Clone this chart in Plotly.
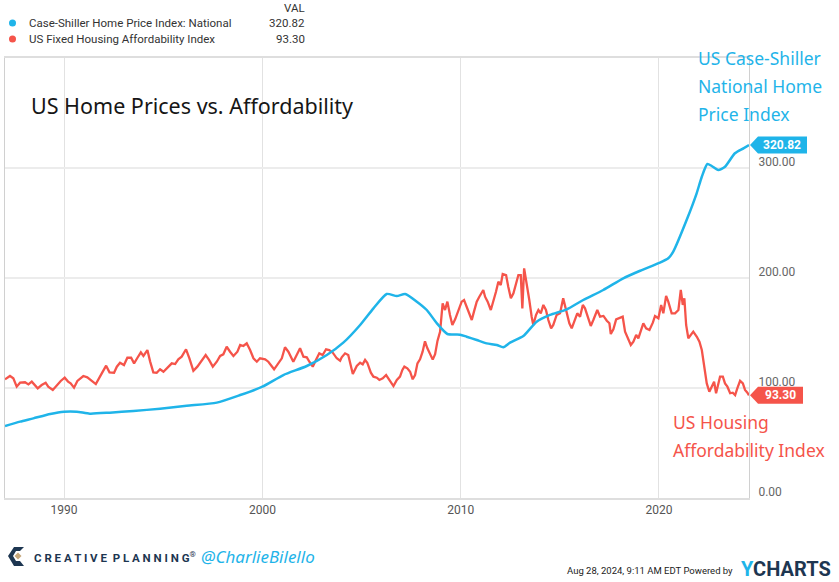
import plotly.graph_objects as go

# ---------------- data ----------------
hpi_name = "Case-Shiller Home Price Index: National"
hpi_years = [1987.02, 1987.78, 1988.45, 1989.30, 1990.00, 1990.64, 1991.30, 1992.30,
             1993.50, 1994.84, 1996.18, 1997.70, 1998.88, 2000.00, 2001.06, 2002.24,
             2003.25, 2004.08, 2004.93, 2005.60, 2006.27, 2006.78, 2007.20, 2007.79,
             2008.29, 2008.80, 2009.33, 2009.97, 2010.30, 2010.81, 2011.31, 2011.82,
             2012.15, 2012.49, 2013.16, 2013.83, 2014.50, 2015.35, 2016.18, 2017.19,
             2018.20, 2019.05, 2020.05, 2020.47, 2020.72, 2021.43, 2021.90, 2022.16,
             2022.44, 2022.66, 2022.99, 2023.33, 2023.83, 2024.26, 2024.54]
hpi_values = [65.5, 69.4, 72.4, 76.4, 78.5, 78.5, 76.7, 77.6,
              79.1, 81.2, 83.9, 86.7, 93.6, 101.2, 111.8, 120.0,
              130.0, 141.2, 157.3, 172.4, 185.5, 183.6, 185.5, 178.5,
              170.9, 158.8, 149.1, 148.5, 146.6, 143.6, 140.6, 139.1,
              137.0, 141.2, 147.3, 160.3, 166.4, 171.5, 180.0, 189.1,
              199.7, 206.6, 213.9, 217.9, 224.0, 254.3, 277.0, 292.1,
              303.6, 301.8, 298.2, 301.2, 313.4, 317.9, 320.82]

aff_name = "US Fixed Housing Affordability Index"
aff_years = [1987.02, 1987.27, 1987.44, 1987.61, 1987.78, 1988.03, 1988.20, 1988.37,
             1988.67, 1988.87, 1989.07, 1989.20, 1989.43, 1989.63, 1989.83, 1990.03,
             1990.20, 1990.33, 1990.50, 1990.67, 1990.97, 1991.17, 1991.40, 1991.60,
             1991.90, 1992.12, 1992.29, 1992.52, 1992.66, 1992.82, 1993.02, 1993.19,
             1993.38, 1993.53, 1993.70, 1993.87, 1994.00, 1994.20, 1994.34, 1994.50,
             1994.67, 1994.84, 1995.01, 1995.26, 1995.43, 1995.60, 1995.76, 1995.93,
             1996.15, 1996.32, 1996.52, 1996.72, 1996.94, 1997.14, 1997.31, 1997.50,
             1997.70, 1997.87, 1998.03, 1998.20, 1998.37, 1998.54, 1998.74, 1998.88,
             1999.04, 1999.21, 1999.38, 1999.55, 1999.72, 1999.88, 2000.14, 2000.30,
             2000.59, 2000.80, 2000.98, 2001.14, 2001.31, 2001.56, 2001.73, 2001.90,
             2002.07, 2002.24, 2002.37, 2002.54, 2002.70, 2002.87, 2003.04, 2003.21,
             2003.37, 2003.55, 2003.75, 2003.92, 2004.00, 2004.17, 2004.33, 2004.46,
             2004.56, 2004.76, 2004.93, 2005.06, 2005.18, 2005.29, 2005.47, 2005.60,
             2005.77, 2005.90, 2006.07, 2006.24, 2006.44, 2006.61, 2006.78, 2006.94,
             2007.06, 2007.16, 2007.31, 2007.45, 2007.58, 2007.70, 2007.82, 2007.95,
             2008.08, 2008.20, 2008.31, 2008.46, 2008.59, 2008.71, 2008.83, 2008.96,
             2009.09, 2009.21, 2009.33, 2009.46, 2009.58, 2009.72, 2009.88, 2010.05,
             2010.17, 2010.30, 2010.43, 2010.56, 2010.67, 2010.81, 2010.94, 2011.06,
             2011.14, 2011.23, 2011.36, 2011.52, 2011.65, 2011.78, 2011.90, 2012.02,
             2012.12, 2012.29, 2012.40, 2012.53, 2012.66, 2012.80, 2012.91, 2013.03,
             2013.11, 2013.20, 2013.33, 2013.46, 2013.58, 2013.66, 2013.80, 2013.92,
             2014.04, 2014.17, 2014.30, 2014.42, 2014.56, 2014.67, 2014.84, 2015.01,
             2015.17, 2015.35, 2015.48, 2015.60, 2015.72, 2015.88, 2016.02, 2016.16,
             2016.27, 2016.44, 2016.56, 2016.69, 2016.89, 2017.03, 2017.20, 2017.37,
             2017.50, 2017.57, 2017.70, 2017.84, 2018.00, 2018.17, 2018.29, 2018.46,
             2018.58, 2018.71, 2018.85, 2018.96, 2019.08, 2019.21, 2019.35, 2019.52,
             2019.69, 2019.80, 2019.97, 2020.11, 2020.22, 2020.36, 2020.47, 2020.64,
             2020.81, 2020.98, 2021.10, 2021.20, 2021.28, 2021.37, 2021.48, 2021.60,
             2021.73, 2021.91, 2022.04, 2022.16, 2022.27, 2022.41, 2022.54, 2022.66,
             2022.78, 2022.88, 2023.00, 2023.08, 2023.22, 2023.33, 2023.45, 2023.59,
             2023.72, 2023.84, 2023.95, 2024.09, 2024.23, 2024.34, 2024.46, 2024.54]
aff_values = [107.9, 110.9, 108.8, 101.2, 104.8, 105.2, 103.3, 105.8,
              99.7, 102.7, 104.8, 101.2, 98.2, 102.7, 106.4, 109.4,
              105.8, 104.2, 100.3, 106.4, 110.9, 109.7, 106.4, 103.6,
              113.3, 120.3, 114.2, 113.9, 119.4, 123.0, 120.9, 127.5,
              127.5, 122.4, 127.5, 132.4, 129.1, 134.5, 124.0, 114.2,
              113.9, 117.0, 114.8, 119.4, 122.4, 121.8, 126.1, 128.5,
              135.2, 127.0, 115.7, 119.4, 125.5, 130.0, 125.5, 119.4,
              123.9, 129.1, 130.6, 137.5, 133.0, 129.1, 133.0, 139.1,
              138.2, 140.6, 134.5, 127.0, 123.9, 127.0, 126.1, 123.9,
              117.0, 122.4, 127.0, 137.0, 133.0, 123.9, 130.5, 136.1,
              128.5, 127.9, 123.9, 119.4, 125.5, 131.5, 130.0, 135.2,
              134.5, 132.1, 127.0, 124.8, 127.9, 131.5, 130.0, 119.4,
              112.7, 120.0, 123.0, 121.5, 125.5, 123.0, 113.9, 110.3,
              109.4, 107.3, 108.8, 111.8, 105.7, 101.8, 107.3, 110.3,
              116.4, 119.4, 117.9, 114.8, 107.9, 111.8, 122.4, 126.1,
              133.0, 142.5, 136.5, 130.0, 125.8, 130.8, 142.8, 151.0,
              177.0, 170.9, 178.5, 166.4, 157.3, 162.4, 170.9, 178.5,
              180.0, 173.9, 169.4, 161.8, 169.4, 178.5, 183.0, 186.1,
              189.1, 183.0, 178.5, 170.9, 178.5, 187.5, 196.6, 193.6,
              203.6, 202.7, 192.1, 181.5, 186.1, 196.6, 202.7, 202.7,
              172.4, 208.8, 195.2, 180.0, 164.8, 157.3, 166.4, 170.9,
              167.9, 175.5, 170.9, 161.8, 154.2, 157.3, 166.4, 168.0,
              181.5, 169.4, 158.8, 154.2, 160.3, 167.9, 164.8, 175.5,
              172.4, 163.4, 156.4, 161.8, 170.9, 164.8, 165.5, 161.2,
              158.8, 149.1, 153.4, 162.4, 163.4, 164.8, 151.2, 143.6,
              139.1, 142.1, 148.2, 145.2, 151.2, 158.8, 154.2, 152.7,
              159.4, 165.5, 163.4, 175.5, 167.9, 183.6, 178.5, 167.9,
              167.9, 170.9, 189.1, 175.5, 181.5, 157.3, 145.2, 148.2,
              151.2, 146.6, 142.1, 134.5, 119.4, 104.2, 96.6, 101.2,
              105.7, 95.2, 104.2, 110.3, 110.3, 104.2, 101.2, 95.2,
              95.7, 93.6, 99.7, 106.6, 104.2, 98.2, 95.7, 93.30]

x_tick_vals = [1990, 2000, 2010, 2020]
x_tick_text = ["1990", "2000", "2010", "2020"]
y_tick_vals = [0, 100, 200, 300]
y_tick_text = ["0.00", "100.00", "200.00", "300.00"]

BLUE = "#1fb4e9"
RED = "#f5544a"
NAVY = "#1d3651"

# ---------------- layout geometry (pixels of the 839x582 page) ----------------
W, H = 839, 582
L, R, T, B = 5, 749, 58, 498          # plot area edges
PW, PH = R - L, B - T
Y_MAX = 400


def px(x):
    return (x - L) / PW


def py(y):
    return (B - y) / PH


fig = go.Figure()
fig.add_trace(go.Scatter(x=aff_years, y=aff_values, mode="lines", name=aff_name,
                         line=dict(color=RED, width=2.3)))
fig.add_trace(go.Scatter(x=hpi_years, y=hpi_values, mode="lines", name=hpi_name,
                         line=dict(color=BLUE, width=2.5, shape="spline", smoothing=0.6)))

ann = []
shapes = []

# legend block (top-left)
ann.append(dict(xref="paper", yref="paper", x=px(307), y=py(8), text="VAL", showarrow=False,
                xanchor="right", yanchor="middle", font=dict(family="Roboto", size=11.5, color="#333")))
for i, (nm, col, val) in enumerate([(hpi_name, BLUE, hpi_values[-1]),
                                     (aff_name, RED, aff_values[-1])]):
    yy = 23 + 16 * i
    shapes.append(dict(type="circle", xref="paper", yref="paper",
                       x0=px(9), x1=px(16), y0=py(yy + 3.5), y1=py(yy - 3.5),
                       fillcolor=col, line=dict(width=0)))
    ann.append(dict(xref="paper", yref="paper", x=px(27), y=py(yy), text=nm, showarrow=False,
                    xanchor="left", yanchor="middle", font=dict(family="Roboto", size=11.5, color="#333")))
    ann.append(dict(xref="paper", yref="paper", x=px(307), y=py(yy), text=f"{val:.2f}", showarrow=False,
                    xanchor="right", yanchor="middle", font=dict(family="Roboto", size=11.5, color="#333")))

# chart title inside plot
ann.append(dict(xref="paper", yref="paper", x=px(29), y=py(105), text="US Home Prices vs. Affordability",
                showarrow=False, xanchor="left", yanchor="middle",
                font=dict(family="Noto Sans", size=21.5, color="#161616")))

# series call-outs
for i, t in enumerate(["US Case-Shiller", "National Home", "Price Index"]):
    ann.append(dict(xref="paper", yref="paper", x=px(696), y=py(58 + 28 * i), text=t, showarrow=False,
                    xanchor="left", yanchor="middle", font=dict(family="Noto Sans", size=17.5, color=BLUE)))
for i, t in enumerate(["US Housing", "Affordability Index"]):
    ann.append(dict(xref="paper", yref="paper", x=px(671), y=py(422 + 28 * i), text=t, showarrow=False,
                    xanchor="left", yanchor="middle", font=dict(family="Noto Sans", size=17.5, color=RED)))

# last-value tags on the right axis
tag_half = 8.5 * Y_MAX / PH
for val, col, wpx in [(hpi_values[-1], BLUE, 49), (aff_values[-1], RED, 45)]:
    shapes.append(dict(type="path", xref="paper", yref="y",
                       path=f"M {px(R+1)},{val} L {px(R+9)},{val+tag_half} L {px(R+9+wpx)},{val+tag_half} "
                            f"L {px(R+9+wpx)},{val-tag_half} L {px(R+9)},{val-tag_half} Z",
                       fillcolor=col, line=dict(width=0), layer="above"))
    ann.append(dict(xref="paper", yref="y", x=px(R + 9 + wpx / 2), y=val, text=f"<b>{val:.2f}</b>",
                    showarrow=False, xanchor="center", yanchor="middle",
                    font=dict(family="Roboto", size=12, color="white")))

# footer: logo + handle
shapes.append(dict(type="path", xref="paper", yref="paper",
                   path=f"M {px(24)},{py(547)} L {px(14)},{py(547)} L {px(8)},{py(556)} L {px(14)},{py(566)} "
                        f"L {px(24)},{py(566)} L {px(20)},{py(561)} L {px(16)},{py(561)} L {px(13)},{py(556)} "
                        f"L {px(16)},{py(551)} L {px(20)},{py(551)} Z",
                   fillcolor=NAVY, line=dict(width=0)))
shapes.append(dict(type="path", xref="paper", yref="paper",
                   path=f"M {px(18)},{py(552.5)} L {px(21.5)},{py(556)} L {px(18)},{py(559.5)} L {px(14.5)},{py(556)} Z",
                   fillcolor="#c5a77a", line=dict(width=0)))
ann.append(dict(xref="paper", yref="paper", x=px(32), y=py(557),
                text="<b>C R E A T I V E  P L A N N I N G</b><sup>®</sup>", showarrow=False,
                xanchor="left", yanchor="middle", font=dict(family="Roboto", size=11.5, color=NAVY)))
ann.append(dict(xref="paper", yref="paper", x=px(199), y=py(556), text="<i>@CharlieBilello</i>",
                showarrow=False, xanchor="left", yanchor="middle",
                font=dict(family="Noto Sans", size=17, color=BLUE)))

# footer right
ann.append(dict(xref="paper", yref="paper", x=px(735), y=py(570),
                text="Aug 28, 2024, 9:11 AM EDT Powered by", showarrow=False,
                xanchor="right", yanchor="middle",
                font=dict(family="Liberation Sans Narrow, Roboto", size=9.5, color="#222")))
ann.append(dict(xref="paper", yref="paper", x=px(739), y=py(569),
                text=f"<b><span style='color:{BLUE}'>Y</span>CHARTS</b>", showarrow=False,
                xanchor="left", yanchor="middle",
                font=dict(family="Roboto", size=20, color=NAVY)))

fig.update_layout(
    width=W, height=H,
    margin=dict(l=L, r=W - R, t=T, b=H - B),
    paper_bgcolor="white", plot_bgcolor="white",
    showlegend=False, hovermode=False,
    annotations=ann, shapes=shapes,
    xaxis=dict(range=[1987.02, 2024.54], tickvals=x_tick_vals, ticktext=x_tick_text,
               showgrid=True, gridcolor="#e2e2e2", gridwidth=1, zeroline=False,
               showline=True, linecolor="#dedede", linewidth=2, mirror=True, ticks="",
               tickfont=dict(family="Roboto", size=12, color="#555")),
    yaxis=dict(range=[0, Y_MAX], side="right", tickvals=y_tick_vals, ticktext=y_tick_text,
               showgrid=True, gridcolor="#ececec", gridwidth=2, zeroline=False,
               showline=True, linecolor="#d0d0d0", linewidth=1, mirror=True, ticks="",
               ticklabelshift=-6, ticklabelstandoff=6,
               tickfont=dict(family="Roboto", size=12, color="#666")),
)

fig.write_html("out.html", config={"displayModeBar": False},
               post_script="document.body.style.margin='0px';document.body.style.overflow='hidden';")
